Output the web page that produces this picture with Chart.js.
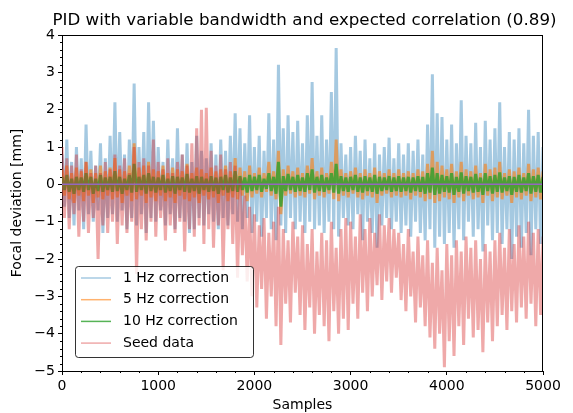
<!DOCTYPE html>
<html>
<head>
<meta charset="utf-8">
<script src="https://cdn.jsdelivr.net/npm/chart.js@4.4.0/dist/chart.umd.min.js"></script>
<style>
  html, body { margin: 0; padding: 0; background: #fff; }
</style>
</head>
<body>
<canvas id="pidChart" width="573" height="413"></canvas>
<script>
// ------------------------------------------------------------------
// DATA (one value every SAMPLE_STEP samples)
// ------------------------------------------------------------------
const SAMPLE_STEP = 25;

const ONE_HZ = [
    0.8,-0.6,1.2,-0.9,0.6,-1.1,1.0,-0.7,0.7,-1.2,1.6,-0.8,0.9,-1.0,0.5,-0.7,1.1,-1.3,0.7,-0.9,
    1.3,-0.8,2.2,-1.0,1.4,-0.7,0.8,-1.2,1.2,-0.9,2.7,-1.1,1.0,-0.8,1.4,-1.3,2.2,-0.9,1.7,-1.0,
    1.0,-0.7,0.6,-1.1,1.2,-0.8,0.7,-1.2,1.5,-0.9,0.8,-1.0,1.1,-1.3,0.6,-1.2,1.3,-0.9,0.9,-1.1,
    0.7,-0.8,1.1,-1.0,0.8,-1.2,1.2,-0.9,0.9,-1.1,1.3,-0.8,1.9,-1.0,1.5,-1.2,1.1,-0.9,1.85,-1.3,
    1.0,-1.0,1.3,-1.4,0.9,-0.9,1.9,-1.2,1.2,-1.5,3.2,-1.1,1.5,-1.3,1.85,-0.9,1.4,-1.2,1.7,-1.0,
    1.1,-1.3,1.85,-1.0,2.74,-1.2,1.3,-1.1,1.85,-1.3,1.2,-1.0,2.47,-1.2,3.65,-1.4,1.1,-0.9,0.8,-1.1,
    1.0,-1.2,1.3,-0.8,0.9,-1.5,1.2,-1.0,0.7,-1.3,1.1,-1.7,0.8,-1.1,1.0,-0.9,1.25,-1.2,0.7,-1.0,
    1.1,-1.3,0.8,-1.1,1.1,-1.4,0.9,-1.0,1.2,-1.3,0.8,-1.5,1.6,-1.2,2.95,-1.7,1.9,-1.4,1.8,-1.6,
    1.2,-1.3,1.6,-1.7,1.1,-1.2,2.25,-1.5,1.3,-1.0,1.1,-1.4,1.65,-1.2,1.0,-1.8,1.7,-1.1,1.2,-1.5,
    1.5,-1.3,2.2,-1.6,1.0,-1.2,1.4,-2.0,1.2,-1.4,1.5,-1.7,1.1,-1.3,2.0,-1.9,1.3,-1.2,1.4,-1.6,
    1.0
];

const FIVE_HZ = [
    0.4,-0.3,0.5,-0.4,0.3,-0.5,0.45,-0.3,0.35,-0.45,0.6,-0.3,0.4,-0.5,0.3,-0.35,0.5,-0.4,0.35,-0.3,
    0.45,-0.4,0.7,-0.35,0.4,-0.5,0.35,-0.3,0.5,-0.45,1.1,-0.4,0.45,-0.3,0.5,-0.5,0.6,-0.35,0.4,-0.45,
    0.35,-0.3,0.5,-0.45,0.3,-0.35,0.45,-0.5,0.4,-0.3,0.35,-0.4,0.55,-0.45,0.3,-0.35,0.45,-0.5,0.4,-0.3,
    0.3,-0.4,0.45,-0.35,0.35,-0.5,0.4,-0.3,0.5,-0.45,0.35,-0.35,0.7,-0.4,0.45,-0.3,0.35,-0.45,0.5,-0.35,
    0.3,-0.25,0.45,-0.35,0.3,-0.2,0.6,-0.3,0.35,-0.4,0.9,-0.8,0.4,-0.3,0.5,-0.25,0.35,-0.35,0.45,-0.3,
    0.3,-0.35,0.5,-0.25,0.7,-0.4,0.35,-0.3,0.45,-0.35,0.3,-0.25,0.6,-0.4,1.2,-0.45,0.4,-0.3,0.3,-0.35,
    0.35,-0.25,0.45,-0.35,0.3,-0.4,0.4,-0.3,0.3,-0.35,0.45,-0.5,0.35,-0.3,0.3,-0.25,0.4,-0.35,0.3,-0.3,
    0.4,-0.35,0.3,-0.3,0.35,-0.4,0.3,-0.3,0.4,-0.35,0.35,-0.45,0.55,-0.4,0.9,-0.5,0.6,-0.45,0.5,-0.35,
    0.4,-0.4,0.55,-0.5,0.35,-0.35,0.6,-0.45,0.4,-0.3,0.35,-0.4,0.5,-0.35,0.3,-0.5,0.55,-0.3,0.4,-0.45,
    0.45,-0.35,0.6,-0.4,0.3,-0.3,0.4,-0.5,0.35,-0.35,0.45,-0.4,0.3,-0.3,0.55,-0.45,0.4,-0.35,0.45,-0.4,
    0.35
];

const TEN_HZ = [
    0.2,-0.15,0.25,-0.2,0.15,-0.25,0.2,-0.15,0.18,-0.2,0.3,-0.15,0.2,-0.25,0.15,-0.18,0.25,-0.2,0.18,-0.15,
    0.2,-0.2,0.35,-0.18,0.2,-0.25,0.15,-0.15,0.25,-0.22,0.55,-0.2,0.2,-0.15,0.25,-0.25,0.3,-0.18,0.2,-0.22,
    0.18,-0.15,0.25,-0.22,0.15,-0.18,0.22,-0.25,0.2,-0.15,0.18,-0.2,0.28,-0.22,0.15,-0.18,0.22,-0.25,0.2,-0.15,
    0.15,-0.2,0.22,-0.18,0.18,-0.25,0.2,-0.15,0.25,-0.22,0.18,-0.18,0.35,-0.2,0.22,-0.15,0.18,-0.22,0.25,-0.18,
    0.2,-0.15,0.25,-0.2,0.15,-0.12,0.3,-0.18,0.2,-0.25,0.6,-0.6,0.22,-0.18,0.28,-0.15,0.2,-0.2,0.25,-0.18,
    0.18,-0.2,0.3,-0.15,0.4,-0.22,0.2,-0.18,0.25,-0.2,0.18,-0.15,0.3,-0.22,0.55,-0.25,0.22,-0.18,0.18,-0.2,
    0.2,-0.15,0.25,-0.2,0.18,-0.22,0.22,-0.18,0.18,-0.2,0.25,-0.25,0.2,-0.18,0.18,-0.15,0.22,-0.2,0.18,-0.18,
    0.22,-0.2,0.18,-0.18,0.2,-0.22,0.18,-0.18,0.22,-0.2,0.2,-0.25,0.3,-0.22,0.45,-0.28,0.3,-0.25,0.25,-0.2,
    0.22,-0.22,0.3,-0.28,0.2,-0.2,0.32,-0.25,0.22,-0.18,0.2,-0.22,0.28,-0.2,0.18,-0.28,0.3,-0.18,0.22,-0.25,
    0.25,-0.2,0.32,-0.22,0.18,-0.18,0.22,-0.28,0.2,-0.2,0.25,-0.22,0.18,-0.18,0.3,-0.25,0.22,-0.2,0.25,-0.22,
    0.2
];

const SEED = [
    1.0,-0.9,0.7,-1.2,0.5,-0.8,0.8,-1.4,0.4,-1.0,0.6,-1.3,0.3,-0.9,0.5,-2.0,0.3,-1.1,0.6,-1.3,
    0.4,-1.0,0.8,-1.6,0.5,-1.1,0.7,-1.3,0.3,-1.0,1.0,-2.4,0.6,-1.2,0.7,-1.5,0.5,-1.0,1.2,-1.4,
    0.6,-0.9,0.4,-1.5,0.7,-1.1,0.3,-1.3,0.6,-1.0,0.8,-1.8,0.5,-1.2,1.1,-1.4,1.5,-1.1,2.0,-1.6,
    2.05,-1.2,0.9,-1.7,0.5,-1.1,0.8,-2.3,0.4,-1.2,0.6,-1.6,0.5,-2.5,0.2,-1.9,-0.3,-2.6,-0.6,-3.0,
    -0.8,-3.3,-1.1,-2.8,-0.9,-3.6,-1.3,-3.0,-1.0,-3.8,-0.6,-4.3,-1.2,-3.2,-1.5,-3.7,-1.0,-2.9,-1.4,-3.5,
    -1.1,-3.9,-1.6,-3.3,-1.2,-4.0,-1.8,-3.5,-1.3,-3.8,-1.5,-4.2,-1.0,-3.4,-1.7,-4.0,-1.2,-3.6,-0.9,-3.9,
    -1.0,-3.2,-1.4,-3.6,-0.8,-2.9,-1.2,-3.4,-0.9,-3.0,-1.3,-2.7,-0.8,-3.1,-1.1,-2.6,-0.9,-2.9,-1.2,-2.5,
    -1.3,-3.1,-1.6,-3.4,-1.2,-3.0,-1.8,-3.7,-1.4,-3.3,-1.9,-3.8,-1.5,-4.1,-2.1,-4.4,-1.7,-4.0,-2.3,-4.9,
    -1.6,-4.2,-1.9,-4.6,-1.5,-3.8,-1.8,-4.3,-1.4,-3.6,-1.7,-4.1,-1.5,-3.9,-2.0,-4.5,-1.6,-3.7,-1.8,-4.2,
    -1.5,-3.8,-1.3,-3.5,-1.7,-3.9,-1.2,-3.4,-1.6,-3.7,-1.1,-3.3,-1.4,-3.6,-1.0,-3.2,-1.3,-3.8,-1.2,-3.5,
    -1.4
];

const ZERO_LINE = [0, 0];            // at samples 0 and 5000
const ZERO_SAMPLES = [0, 5000];

const X_TICKS = [0, 1000, 2000, 3000, 4000, 5000];
const Y_TICKS = [-5, -4, -3, -2, -1, 0, 1, 2, 3, 4];

const TITLE = "PID with variable bandwidth and expected correlation (0.89)";
const FONT = "'DejaVu Sans', sans-serif";

// ------------------------------------------------------------------
function toPoints(values) {
    return values.map((v, i) => ({ x: i * SAMPLE_STEP, y: v }));
}

// ------------------------------------------------------------------
// title over the axes, extra ticks, frame and the boxed legend
// ------------------------------------------------------------------
const frameAndMinor = {
    id: "frameAndMinor",
    afterDraw(chart) {
        const { ctx, chartArea: a, scales: { x, y } } = chart;
        ctx.save();

        ctx.font = "16.7px " + FONT;
        ctx.fillStyle = "#000";
        ctx.textAlign = "center";
        ctx.textBaseline = "middle";
        ctx.fillText(TITLE, (a.left + a.right) / 2 + 2, 21);

        ctx.strokeStyle = "#000";
        ctx.lineWidth = 1;
        ctx.beginPath();
        // top and right spines
        ctx.moveTo(a.left, Math.round(a.top) + 0.5);
        ctx.lineTo(a.right, Math.round(a.top) + 0.5);
        ctx.moveTo(Math.round(a.right) - 0.5, a.top);
        ctx.lineTo(Math.round(a.right) - 0.5, a.bottom);
        // minor ticks
        for (let v = 200; v < 5000; v += 200) {
            if (v % 1000 === 0) continue;
            const px = Math.round(x.getPixelForValue(v)) + 0.5;
            ctx.moveTo(px, a.bottom);
            ctx.lineTo(px, a.bottom + 2);
        }
        for (let k = -25; k <= 20; k++) {
            if (k % 5 === 0) continue;
            const py = Math.round(y.getPixelForValue(k / 5)) + 0.5;
            ctx.moveTo(a.left, py);
            ctx.lineTo(a.left - 2, py);
        }
        ctx.stroke();

        // legend
        const bx = a.left + 13, by = a.bottom - 105, bw = 178, bh = 91;
        ctx.beginPath();
        ctx.roundRect(bx + 0.5, by + 0.5, bw, bh, 3);
        ctx.fillStyle = "rgba(255,255,255,0.8)";
        ctx.fill();
        ctx.strokeStyle = "rgba(0,0,0,0.8)";
        ctx.stroke();

        ctx.font = "14px " + FONT;
        ctx.textAlign = "left";
        ctx.textBaseline = "middle";
        ctx.fillStyle = "#000";
        const items = chart.data.datasets.filter(d => d.inLegend);
        items.forEach((d, i) => {
            const ry = by + 12 + i * 21.7;
            ctx.beginPath();
            ctx.strokeStyle = d.borderColor;
            ctx.lineWidth = 1.5;
            ctx.moveTo(bx + 6, ry);
            ctx.lineTo(bx + 36, ry);
            ctx.stroke();
            ctx.fillText(d.label, bx + 48, ry);
        });
        ctx.restore();
    }
};

// ------------------------------------------------------------------
const lineStyle = {
    pointRadius: 0,
    borderWidth: 3,
    borderJoinStyle: "bevel",
    tension: 0,
    fill: false
};

new Chart(document.getElementById("pidChart"), {
    type: "line",
    data: {
        datasets: [
            { ...lineStyle, label: "1 Hz correction", inLegend: true, order: 5,
              data: toPoints(ONE_HZ), borderColor: "rgba(31,119,180,0.4)" },
            { ...lineStyle, label: "5 Hz correction", inLegend: true, order: 4,
              data: toPoints(FIVE_HZ), borderColor: "rgba(255,127,14,0.6)" },
            { ...lineStyle, label: "10 Hz correction", inLegend: true, order: 3,
              data: toPoints(TEN_HZ), borderColor: "rgba(44,160,44,0.8)" },
            { ...lineStyle, label: "Seed data", inLegend: true, order: 2,
              data: toPoints(SEED), borderColor: "rgba(214,39,40,0.4)" },
            { ...lineStyle, label: "zero", inLegend: false, order: 1, borderWidth: 1.5,
              data: ZERO_LINE.map((v, i) => ({ x: ZERO_SAMPLES[i], y: v })),
              borderColor: "#9467bd" }
        ]
    },
    options: {
        responsive: false,
        animation: false,
        events: [],
        layout: { padding: { left: 0, right: 30, top: 35, bottom: 0 } },
        plugins: {
            legend: { display: false },
            tooltip: { enabled: false },
            title: { display: false }
        },
        scales: {
            x: {
                type: "linear", min: 0, max: 5000,
                afterFit: s => { s.height = 42; },
                afterBuildTicks: s => { s.ticks = X_TICKS.map(v => ({ value: v })); },
                ticks: { color: "#000", font: { family: FONT, size: 14 }, padding: 3, maxRotation: 0,
                         callback: v => String(v) },
                grid: { drawOnChartArea: false, tickLength: 4, tickColor: "#000", tickWidth: 1 },
                border: { color: "#000", width: 1 },
                title: { display: true, text: "Samples", color: "#000",
                         font: { family: FONT, size: 14 }, padding: { top: 0, bottom: -1 } }
            },
            y: {
                type: "linear", min: -5, max: 4,
                afterFit: s => { s.width = 62; },
                afterBuildTicks: s => { s.ticks = Y_TICKS.map(v => ({ value: v })); },
                ticks: { color: "#000", font: { family: FONT, size: 14 }, padding: 3,
                         callback: v => String(v).replace("-", "\u2212") },
                grid: { drawOnChartArea: false, tickLength: 4, tickColor: "#000", tickWidth: 1 },
                border: { color: "#000", width: 1 },
                title: { display: true, text: "Focal deviation [mm]", color: "#000",
                         font: { family: FONT, size: 14 }, padding: { top: 9, bottom: 0 } }
            }
        }
    },
    plugins: [frameAndMinor]
});
</script>
</body>
</html>
